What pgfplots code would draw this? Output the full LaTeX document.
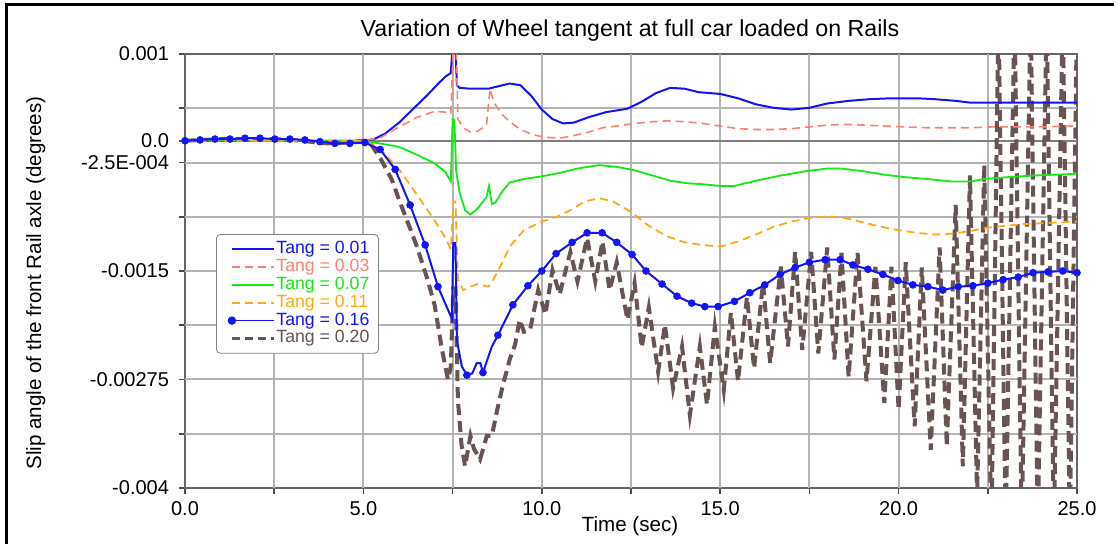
\documentclass[border=0pt]{standalone}
\usepackage{fontspec}
\setmainfont{Liberation Sans}
\usepackage{pgfplots}
\pgfplotsset{compat=1.18}

\definecolor{cblue}{RGB}{20,20,250}
\definecolor{csalmon}{RGB}{250,130,115}
\definecolor{cgreen}{RGB}{20,235,20}
\definecolor{corange}{RGB}{255,170,20}
\definecolor{cbrown}{RGB}{104,84,82}
\definecolor{cgrid}{RGB}{180,180,180}

\begin{document}
\begin{tikzpicture}
\path[use as bounding box] (0,0) rectangle (560pt,-272pt);
% outer frame (top and left edges)
\draw[line width=1.5pt] (3pt,-272pt) -- (3pt,-2.5pt) -- (557pt,-2.5pt);

\begin{axis}[
  at={(92.5pt,-244pt)}, anchor=south west,
  scale only axis, width=446pt, height=217pt,
  xmin=0, xmax=25, ymin=-0.004, ymax=0.001,
  xtick={0,5,10,15,20,25},
  xticklabels={0.0,5.0,10.0,15.0,20.0,25.0},
  minor xtick={2.5,7.5,12.5,17.5,22.5},
  ytick={-0.004,-0.00275,-0.0015,-0.00025,0,0.001},
  yticklabels={-0.004,-0.00275,-0.0015,-2.5E-004,0.0,0.001},
  minor ytick={-0.003375,-0.002125,-0.000875,0.000375},
  scaled x ticks=false, scaled y ticks=false,
  tick align=outside, tick pos=left,
  major tick length=3pt, minor tick length=3pt,
  tick style={black!70, line width=0.8pt},
  axis line style={black!60, line width=0.9pt},
  tick label style={font=\fontsize{10}{12}\selectfont},
  yticklabel style={xshift=-1.5pt},
  legend style={
    at={(axis description cs:0.0348,0.585)}, anchor=north west,
    draw=black!50, rounded corners=2pt, fill=white,
    font=\fontsize{8.85}{9}\selectfont,
    inner xsep=4pt, inner ysep=3pt,
    nodes={inner sep=0.5pt, text height=6.2pt, text depth=1.7pt},
    cells={anchor=west}, row sep=0pt
  },
  legend image code/.code={%
    \path (0pt,0pt);
    \draw[#1, mark indices={1}] plot coordinates {(3pt,0pt) (24pt,0pt)};
  },
]

% grid lines
\draw[cgrid, line width=1pt] (axis cs:2.5,-0.004) -- (axis cs:2.5,0.001);
\draw[cgrid, line width=1pt] (axis cs:5,-0.004) -- (axis cs:5,0.001);
\draw[cgrid, line width=1pt] (axis cs:7.5,-0.004) -- (axis cs:7.5,0.001);
\draw[cgrid, line width=1pt] (axis cs:10,-0.004) -- (axis cs:10,0.001);
\draw[cgrid, line width=1pt] (axis cs:12.5,-0.004) -- (axis cs:12.5,0.001);
\draw[cgrid, line width=1pt] (axis cs:15,-0.004) -- (axis cs:15,0.001);
\draw[cgrid, line width=1pt] (axis cs:17.5,-0.004) -- (axis cs:17.5,0.001);
\draw[cgrid, line width=1pt] (axis cs:20,-0.004) -- (axis cs:20,0.001);
\draw[cgrid, line width=1pt] (axis cs:22.5,-0.004) -- (axis cs:22.5,0.001);
\draw[cgrid, line width=1pt] (axis cs:0,-0.003375) -- (axis cs:25,-0.003375);
\draw[cgrid, line width=1pt] (axis cs:0,-0.00275) -- (axis cs:25,-0.00275);
\draw[cgrid, line width=1pt] (axis cs:0,-0.002125) -- (axis cs:25,-0.002125);
\draw[cgrid, line width=1pt] (axis cs:0,-0.0015) -- (axis cs:25,-0.0015);
\draw[cgrid, line width=1pt] (axis cs:0,-0.000875) -- (axis cs:25,-0.000875);
\draw[cgrid, line width=1pt] (axis cs:0,-0.00025) -- (axis cs:25,-0.00025);
\draw[cgrid, line width=1pt] (axis cs:0,0.000375) -- (axis cs:25,0.000375);
\draw[black!50, line width=0.9pt] (axis cs:0,0) -- (axis cs:25,0);

% Tang = 0.20
\addplot[cbrown, line width=2pt, dash pattern=on 5.5pt off 3pt, forget plot] coordinates {
(0,0) (0.5,0.00001) (1,0.00002) (1.5,0.00002) (2,0.00002) (2.5,0.00002) (3,0.00001)
(3.5,-0.00001) (4,-0.00003) (4.5,-0.00002) (5,0) (5.2,-0.00003) (5.5,-0.00022)
(5.8,-0.00045) (6.0,-0.00068) (6.3,-0.001) (6.5,-0.00122) (6.8,-0.0016) (7.0,-0.0019)
(7.2,-0.0024) (7.37,-0.00275) (7.45,-0.0026) (7.52,-0.0017) (7.58,-0.0017) (7.65,-0.003)
(7.75,-0.0035) (7.85,-0.00375) (8.0,-0.0034) (8.1,-0.00355) (8.27,-0.00367) (8.46,-0.0034)
(8.6,-0.0034) (8.75,-0.0031) (8.9,-0.00283) (9.1,-0.00252) (9.25,-0.00235) (9.38,-0.00206)
(9.5,-0.0022) (9.67,-0.00218) (9.9,-0.00172) (10.1,-0.002) (10.3,-0.00149) (10.5,-0.00177)
(10.8,-0.00128) (11.0,-0.00162) (11.27,-0.00112) (11.5,-0.00162) (11.7,-0.00116)
(11.9,-0.00172) (12.1,-0.0014) (12.4,-0.00206) (12.6,-0.00164) (12.8,-0.00238)
(13.0,-0.00192) (13.26,-0.00266) (13.45,-0.00212) (13.68,-0.00285) (13.93,-0.00237)
(14.15,-0.00316) (14.43,-0.00237) (14.63,-0.00304) (14.85,-0.00214) (15.1,-0.00287)
(15.3,-0.00198) (15.5,-0.00277) (15.75,-0.0018) (15.95,-0.00262) (16.2,-0.00164)
(16.4,-0.00256) (16.7,-0.00145) (16.9,-0.00237) (17.1,-0.00128) (17.3,-0.00241)
(17.55,-0.00128) (17.75,-0.00245) (18.0,-0.00123) (18.2,-0.00252) (18.4,-0.00129)
(18.6,-0.00272) (18.85,-0.00129) (19.1,-0.00277) (19.35,-0.00145) (19.6,-0.00302)
(19.8,-0.00145) (20.0,-0.0031) (20.2,-0.0014) (20.45,-0.00329) (20.65,-0.00146)
(20.9,-0.00356) (21.15,-0.00123) (21.35,-0.00352) (21.6,-0.00074) (21.8,-0.00375)
(22.0,-0.0004) (22.2,-0.0041) (22.4,-0.00028) (22.6,-0.0045) (22.8,0.0015) (23.0,-0.0045)
(23.25,0.0015) (23.45,-0.0045) (23.7,0.0015) (23.9,-0.0045) (24.15,0.0015) (24.35,-0.0045)
(24.6,0.0015) (24.8,-0.0045) (25.0,0.0015)
};

% Tang = 0.01
\addplot[cblue, line width=1pt, forget plot] coordinates {
(0,0) (1,0) (2,0) (3,0) (4,0) (5,0) (5.3,0.00002) (5.6,0.00008) (6.0,0.00021)
(6.4,0.00037) (6.8,0.00053) (7.1,0.00066) (7.3,0.00074) (7.45,0.00078) (7.5,0.0011)
(7.58,0.0011) (7.62,0.00064) (7.7,0.00061) (8.0,0.0006) (8.5,0.0006) (8.8,0.00063)
(9.1,0.00066) (9.4,0.00064) (9.7,0.00052) (10.0,0.00036) (10.3,0.00025) (10.6,0.0002)
(10.9,0.00021) (11.3,0.00027) (11.8,0.00033) (12.4,0.00037) (12.8,0.00045) (13.2,0.00055)
(13.6,0.00061) (14.0,0.0006) (14.4,0.00056) (15.0,0.00054) (15.5,0.00049) (16.0,0.00042)
(16.5,0.00038) (17.0,0.00036) (17.5,0.00038) (18.0,0.00043) (18.6,0.00046) (19.2,0.00048)
(19.8,0.00049) (20.5,0.00049) (21.0,0.00048) (21.6,0.00046) (22.0,0.00044) (23,0.00044)
(24,0.00044) (25,0.00044)
};

% Tang = 0.03
\addplot[csalmon, line width=0.8pt, dash pattern=on 4pt off 2.5pt, forget plot] coordinates {
(0,0) (5,0) (5.5,0.00004) (6.0,0.00016) (6.5,0.00027) (7.0,0.00034) (7.3,0.00033)
(7.45,0.00031) (7.52,0.0011) (7.6,0.0011) (7.65,0.00025) (7.8,0.00015) (8.0,0.0001)
(8.2,0.00011) (8.45,0.00018) (8.55,0.0006) (8.65,0.00045) (8.85,0.00032) (9.1,0.00022)
(9.4,0.00013) (9.75,0.00007) (10.1,0.00004) (10.5,0.00003) (10.9,0.00006) (11.3,0.0001)
(11.7,0.00015) (12.1,0.00017) (12.6,0.0002) (13.1,0.00022) (13.5,0.00023) (14.0,0.00022)
(14.5,0.0002) (15.0,0.00017) (15.5,0.00014) (16.0,0.00013) (16.5,0.00013) (17.0,0.00014)
(17.5,0.00016) (18.0,0.00018) (18.5,0.00019) (19.1,0.00018) (19.6,0.00017) (20.2,0.00016)
(20.8,0.00015) (21.4,0.00015) (22,0.00015) (22.6,0.00016) (23.2,0.00016) (24,0.00016)
(24.8,0.00017) (25,0.00017)
};

% Tang = 0.07
\addplot[cgreen, line width=0.9pt, forget plot] coordinates {
(0,0) (5,0) (5.3,-0.00002) (5.6,-0.00004) (6.0,-0.00007) (6.5,-0.00016) (7.0,-0.00026)
(7.3,-0.00036) (7.45,-0.00047) (7.5,0.00025) (7.55,0.00024) (7.6,-0.00035) (7.7,-0.0006)
(7.85,-0.0008) (8.0,-0.00085) (8.2,-0.00078) (8.45,-0.00065) (8.52,-0.00052) (8.6,-0.00073)
(8.7,-0.00071) (8.9,-0.00058) (9.1,-0.00048) (9.5,-0.00044) (10.0,-0.00041) (10.5,-0.00037)
(11.0,-0.00032) (11.6,-0.00028) (12.1,-0.0003) (12.6,-0.00034) (13.1,-0.0004) (13.6,-0.00046)
(14.1,-0.00049) (14.5,-0.0005) (15.0,-0.00052) (15.4,-0.00052) (16.0,-0.00046) (16.7,-0.0004)
(17.4,-0.00035) (18.0,-0.00032) (18.4,-0.00032) (19.0,-0.00035) (19.6,-0.00039)
(20.2,-0.00042) (20.8,-0.00044) (21.5,-0.00047) (22.0,-0.00047) (22.4,-0.00044)
(23.0,-0.00042) (23.8,-0.0004) (25,-0.00038)
};

% Tang = 0.11
\addplot[corange, line width=0.9pt, dash pattern=on 4pt off 2.5pt, forget plot] coordinates {
(0,0) (5,0) (5.3,-0.00005) (5.6,-0.00015) (6.0,-0.00033) (6.5,-0.00062) (7.0,-0.00092)
(7.3,-0.00112) (7.45,-0.00125) (7.52,-0.0007) (7.58,-0.0007) (7.65,-0.0016) (7.8,-0.00172)
(8.0,-0.00168) (8.2,-0.00165) (8.5,-0.00168) (8.6,-0.00163) (8.9,-0.0014) (9.1,-0.00122)
(9.5,-0.00103) (10.0,-0.00093) (10.4,-0.00088) (10.8,-0.0008) (11.2,-0.0007) (11.6,-0.00066)
(12.0,-0.0007) (12.5,-0.00082) (13.0,-0.00098) (13.5,-0.0011) (14.0,-0.00117) (14.5,-0.0012)
(15.0,-0.00122) (15.5,-0.00116) (16.0,-0.00108) (16.5,-0.00099) (17.0,-0.00093)
(17.5,-0.00089) (18.0,-0.00087) (18.5,-0.00089) (19.0,-0.00094) (19.5,-0.00099)
(20.0,-0.00103) (20.5,-0.00106) (21.0,-0.00108) (21.5,-0.00107) (22.0,-0.00104)
(22.5,-0.001) (23.0,-0.00098) (23.5,-0.00096) (24.0,-0.00095) (24.5,-0.00094) (25,-0.00093)
};

% Tang = 0.16 (line)
\addplot[cblue, line width=1pt, forget plot] coordinates {
(0,0) (0.42,0.00001) (0.84,0.00002) (1.26,0.00002) (1.68,0.00003) (2.1,0.00003)
(2.52,0.00002) (2.94,0.00002) (3.36,0.00001) (3.78,-0.00001) (4.2,-0.00003) (4.62,-0.00003)
(5.04,-0.00002) (5.47,-0.0001) (5.89,-0.00033) (6.31,-0.00074) (6.73,-0.0012) (7.09,-0.00168)
(7.3,-0.00188) (7.48,-0.00205) (7.52,-0.00118) (7.58,-0.00118) (7.62,-0.0023) (7.76,-0.0026)
(7.9,-0.0027) (8.05,-0.00268) (8.18,-0.00256) (8.28,-0.00256) (8.35,-0.00267) (8.6,-0.00237)
(8.77,-0.00224) (9.19,-0.00189) (9.61,-0.00167) (10.0,-0.0015) (10.4,-0.0013) (10.85,-0.00117)
(11.27,-0.00106) (11.69,-0.00106) (12.1,-0.00117) (12.53,-0.00131) (12.92,-0.0015)
(13.37,-0.00165) (13.79,-0.00179) (14.2,-0.00187) (14.57,-0.00191) (14.94,-0.00191)
(15.4,-0.00185) (15.83,-0.00175) (16.25,-0.00166) (16.68,-0.00154) (17.1,-0.00146)
(17.5,-0.0014) (17.94,-0.00137) (18.36,-0.00137) (18.72,-0.00143) (19.14,-0.00148)
(19.56,-0.00154) (19.98,-0.00161) (20.4,-0.00166) (20.82,-0.00168) (21.24,-0.00172)
(21.67,-0.00168) (22.08,-0.00167) (22.5,-0.00164) (22.93,-0.0016) (23.35,-0.00157)
(23.77,-0.00152) (24.19,-0.00151) (24.6,-0.0015) (25.0,-0.00152)
};
% Tang = 0.16 (sample markers)
\addplot[cblue, only marks, mark=*, mark size=1.7pt, forget plot] coordinates {
(0,0) (0.42,0.00001) (0.84,0.00002) (1.26,0.00002) (1.68,0.00003) (2.1,0.00003)
(2.52,0.00002) (2.94,0.00002) (3.36,0.00001) (3.78,-0.00001) (4.2,-0.00003) (4.62,-0.00003)
(5.04,-0.00002) (5.47,-0.0001) (5.89,-0.00033) (6.31,-0.00074) (6.73,-0.0012) (7.09,-0.00168)
(7.9,-0.0027) (8.35,-0.00267) (8.77,-0.00224) (9.19,-0.00189) (9.61,-0.00167) (10.0,-0.0015)
(10.4,-0.0013) (10.85,-0.00117) (11.27,-0.00106) (11.69,-0.00106) (12.1,-0.00117)
(12.53,-0.00131) (12.92,-0.0015) (13.37,-0.00165) (13.79,-0.00179) (14.2,-0.00187)
(14.57,-0.00191) (14.94,-0.00191) (15.4,-0.00185) (15.83,-0.00175) (16.25,-0.00166)
(16.68,-0.00154) (17.1,-0.00146) (17.5,-0.0014) (17.94,-0.00137) (18.36,-0.00137)
(18.72,-0.00143) (19.14,-0.00148) (19.56,-0.00154) (19.98,-0.00161) (20.4,-0.00166)
(20.82,-0.00168) (21.24,-0.00172) (21.67,-0.00168) (22.08,-0.00167) (22.5,-0.00164)
(22.93,-0.0016) (23.35,-0.00157) (23.77,-0.00152) (24.19,-0.00151) (24.6,-0.0015) (25.0,-0.00152)
};

\addlegendimage{cblue, line width=1pt}
\addlegendentry{\textcolor{cblue}{Tang = 0.01}}
\addlegendimage{csalmon, line width=0.9pt, dash pattern=on 4pt off 2.5pt}
\addlegendentry{\textcolor{csalmon}{Tang = 0.03}}
\addlegendimage{cgreen, line width=0.9pt}
\addlegendentry{\textcolor{cgreen}{Tang = 0.07}}
\addlegendimage{corange, line width=0.9pt, dash pattern=on 4pt off 2.5pt}
\addlegendentry{\textcolor{corange}{Tang = 0.11}}
\addlegendimage{cblue, line width=0.8pt, mark=*, mark size=1.7pt}
\addlegendentry{\textcolor{cblue}{Tang = 0.16}}
\addlegendimage{cbrown, line width=1.5pt, dash pattern=on 4pt off 2.5pt}
\addlegendentry{\textcolor{cbrown}{Tang = 0.20}}
\end{axis}

\node[anchor=base, font=\fontsize{11.6}{14}\selectfont] at (315pt,-18.5pt)
  {Variation of Wheel tangent at full car loaded on Rails};
\node[anchor=base, font=\fontsize{10.3}{12}\selectfont] at (315pt,-266pt) {Time (sec)};
\node[anchor=base, rotate=90, font=\fontsize{10.3}{12}\selectfont] at (20.5pt,-141.5pt)
  {Slip angle of the front Rail axle (degrees)};
\end{tikzpicture}
\end{document}
